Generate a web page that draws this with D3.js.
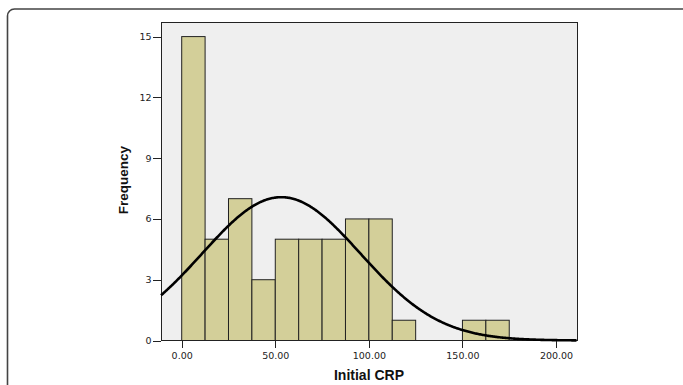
<!DOCTYPE html>
<html lang="en">
  <head>
    <meta charset="UTF-8"/>
    <title>Initial CRP histogram</title>
    <script src="https://d3js.org/d3.v7.min.js"></script>
    <style>
        body {
          margin: 0;
          background: #fff;
          font-family: "Liberation Sans", Arial, sans-serif;
        }
        .axis path,
        .axis line {
          fill: none;
          stroke: #222;
          shape-rendering: crispEdges;
        }
        .axis text {
          font-family: "DejaVu Sans", sans-serif;
          font-size: 9.5px;
          fill: #222;
        }
        .title {
          font-size: 13.5px;
          font-weight: bold;
          fill: #111;
        }
    </style>
  </head>
  <body>
    <script>
        // histogram bins (Initial CRP), width 12.5
        const binStarts = [0, 12.5, 25, 37.5, 50, 62.5, 75, 87.5, 100, 112.5, 125, 137.5, 150, 162.5]
        const counts = [15, 5, 7, 3, 5, 5, 5, 6, 6, 1, 0, 0, 1, 1]
        const binWidth = 12.5
        const xTicks = [0, 50, 100, 150, 200]
        const yTicks = [0, 3, 6, 9, 12, 15]
        // fitted normal curve
        const curveMean = 53.2
        const curveSd = 42.3
        const nCases = d3.sum(counts)

        const width = 683, height = 385
        const plot = {left: 161, top: 22, right: 577, bottom: 340.5}

        const svg = d3.select("body").append("svg")
            .attr("width", width)
            .attr("height", height)

        // outer rounded frame, cut off at right and bottom
        svg.append("rect")
            .attr("x", 7.5)
            .attr("y", 9)
            .attr("width", 720)
            .attr("height", 420)
            .attr("rx", 7)
            .attr("fill", "none")
            .attr("stroke", "#444")
            .attr("stroke-width", 1.6)

        const x = d3.scaleLinear()
            .domain([-11.06, 211.2])
            .range([plot.left, plot.right])

        const y = d3.scaleLinear()
            .domain([0, 15.72])
            .range([plot.bottom, plot.top])

        // plot background
        svg.append("rect")
            .attr("x", plot.left)
            .attr("y", plot.top)
            .attr("width", plot.right - plot.left)
            .attr("height", plot.bottom - plot.top)
            .attr("fill", "#efefef")
            .attr("stroke", "#222")
            .attr("stroke-width", 1)
            .attr("shape-rendering", "crispEdges")

        // bars
        svg.append("g")
          .selectAll("rect")
          .data(binStarts.map((s, i) => ({start: s, count: counts[i]})).filter(d => d.count > 0))
          .join("rect")
            .attr("x", d => x(d.start))
            .attr("y", d => y(d.count))
            .attr("width", d => x(d.start + binWidth) - x(d.start))
            .attr("height", d => y(0) - y(d.count))
            .attr("fill", "#d3cf99")
            .attr("stroke", "#222")
            .attr("stroke-width", 1)

        // normal curve
        const pdf = v => nCases * binWidth / (curveSd * Math.sqrt(2 * Math.PI)) *
            Math.exp(-0.5 * Math.pow((v - curveMean) / curveSd, 2))
        const curvePts = d3.range(-11.06, 211.2, 0.5).map(v => [v, pdf(v)])

        svg.append("path")
            .datum(curvePts)
            .attr("fill", "none")
            .attr("stroke", "#000")
            .attr("stroke-width", 2.6)
            .attr("d", d3.line().x(d => x(d[0])).y(d => y(d[1])))

        // axes
        const xAxis = d3.axisBottom(x)
            .tickValues(xTicks)
            .tickFormat(d3.format(".2f"))
            .tickSize(7)
            .tickPadding(4.5)

        const yAxis = d3.axisLeft(y)
            .tickValues(yTicks)
            .tickSize(8)
            .tickPadding(1.5)

        svg.append("g")
            .attr("class", "x axis")
            .attr("transform", `translate(0, ${plot.bottom})`)
            .call(xAxis)
            .call(g => g.select(".domain").remove())

        svg.append("g")
            .attr("class", "y axis")
            .attr("transform", `translate(${plot.left}, 0)`)
            .call(yAxis)
            .call(g => g.select(".domain").remove())

        // axis titles
        svg.append("text")
            .attr("class", "title")
            .attr("x", 369)
            .attr("y", 380)
            .attr("text-anchor", "middle")
            .style("font-size", "14px")
            .text("Initial CRP")

        svg.append("text")
            .attr("class", "title")
            .attr("transform", "translate(128, 180) rotate(-90)")
            .attr("text-anchor", "middle")
            .text("Frequency")
    </script>
  </body>
</html>
